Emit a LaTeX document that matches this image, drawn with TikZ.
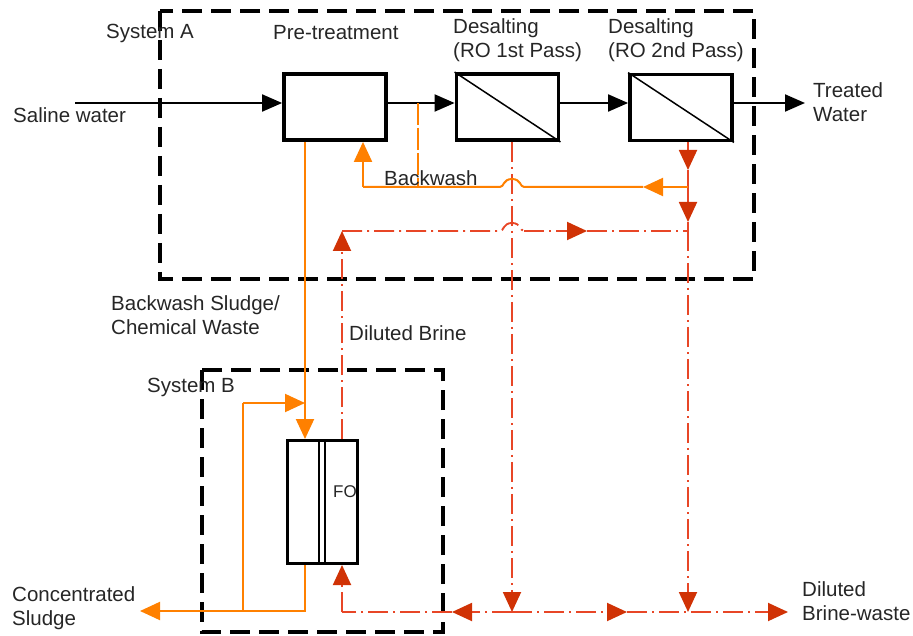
\documentclass[tikz,border=0pt]{standalone}
\usepackage{fontspec}
\setmainfont{Liberation Sans}
\usetikzlibrary{arrows.meta,calc}
\definecolor{orng}{RGB}{255,128,0}
\definecolor{rline}{RGB}{232,70,38}
\definecolor{rtipc}{RGB}{208,50,5}
\begin{document}
\begin{tikzpicture}[x=1pt,y=-1pt,
  lbl/.style={inner sep=0pt, font=\fontsize{20.5}{24}\selectfont, align=left, anchor=west, text=black!85},
  box/.style={draw, line width=3.8pt, minimum width=102pt, minimum height=66pt, inner sep=0pt},
  fobox/.style={draw, line width=3pt, minimum width=70pt, minimum height=123pt, inner sep=0pt},
  sysbox/.style={draw, line width=3.5pt, dash pattern=on 20pt off 9pt},
  flow/.style={line width=2pt},
  btip/.style={-{Triangle[length=20pt,width=17pt]}},
  otip/.style={-{Triangle[length=20pt,width=18pt]}},
  rtip/.style={-{Triangle[length=20pt,width=18pt,color=rtipc]}},
  oflow/.style={draw=orng, line width=2pt},
  rflow/.style={draw=rline, line width=1.9pt, dash pattern=on 20pt off 5pt on 2pt off 5pt},
]
\useasboundingbox (0,0) rectangle (913,636);

% system boundaries
\draw[sysbox] (160,11) rectangle (754,279);
\draw[sysbox] (202,370) rectangle (443,632);

% boxes
\node[box] (pre) at (335,107) {};
\node[box] (ro1) at (507.5,107) {};
\node[box] (ro2) at (681,107.5) {};
\node[fobox] (fo) at (322.5,502) {};
\draw[line width=1.5pt] (ro1.north west) -- (ro1.south east);
\draw[line width=1.5pt] (ro2.north west) -- (ro2.south east);
\draw[line width=1.8pt] ($(fo.north)+(-3.5,0)$) -- ($(fo.south)+(-3.5,0)$);
\draw[line width=1.8pt] ($(fo.north)+(2.5,0)$) -- ($(fo.south)+(2.5,0)$);

% coordinates
\coordinate (sw) at (75,103);
\coordinate (tw) at (805,103);
\coordinate (bwtop) at (418,103);
\coordinate (bwj) at (418,187);
\coordinate (r2a) at (688,170);
\coordinate (r2bw) at (688,187);
\coordinate (r2b) at (688,222);
\coordinate (r2db) at (688,231);
\coordinate (r2end) at (688,612);
\coordinate (bwarrow) at (643,187);
\coordinate (bwcorner) at (363,187);
\coordinate (hop1) at (512,187);
\coordinate (dbcorner) at (342,231);
\coordinate (hop2) at (512,231);
\coordinate (dbarrow) at (587,231);
\coordinate (r1end) at (512,612);
\coordinate (botL) at (452,612);
\coordinate (botcorner) at (342,612);
\coordinate (botR1) at (627,612);
\coordinate (botend) at (788,612);
\coordinate (ob) at (305,611);
\coordinate (obr) at (243,611);
\coordinate (obt) at (243,403);
\coordinate (oin) at (305,403);
\coordinate (oend) at (140,611);

% main black flow
\draw[flow,btip] (sw) -- (pre.west |- sw);
\draw[flow,btip] (pre.east |- sw) -- (ro1.west |- sw);
\draw[flow,btip] (ro1.east |- sw) -- (ro2.west |- sw);
\draw[flow,btip] (ro2.east |- sw) -- (tw);

% red brine lines
\draw[rflow,rtip] (ro1.south -| hop1) -- (r1end);
\draw[rflow,rtip] (ro2.south -| r2a) -- (r2a);
\draw[rflow] (r2a) -- (r2bw);
\draw[rflow,rtip] (r2bw) -- (r2b);
\draw[rflow] (r2b) -- (r2db);
\draw[rflow,rtip] (r2db) -- (r2end);
\draw[rflow,rtip] (fo.north -| dbcorner) -- (dbcorner);
\draw[rflow] (dbcorner) -- ($(hop2)+(-12,0)$)
   .. controls ($(hop2)+(-8,0)$) and ($(hop2)+(-9,-8)$) .. ($(hop2)+(0,-8)$)
   .. controls ($(hop2)+(9,-8)$) and ($(hop2)+(8,0)$) .. ($(hop2)+(12,0)$);
\draw[rflow,rtip] ($(hop2)+(12,0)$) -- (dbarrow);
\draw[rflow] (dbarrow) -- (r2db);
\draw[rflow,rtip] (r1end) -- (botL);
\draw[rflow] (botL) -- (botcorner);
\draw[rflow,rtip] (botcorner) -- (fo.south -| botcorner);
\draw[rflow,rtip] (r1end) -- (botR1);
\draw[rflow,rtip] (botR1) -- (botend);

% orange backwash
\draw[draw=orng, line width=1.2pt, dash pattern=on 22pt off 3pt] (bwtop) -- (bwj);
\draw[oflow,otip] (r2bw) -- (bwarrow);
\draw[oflow] (bwarrow) -- ($(hop1)+(12,0)$)
   .. controls ($(hop1)+(8,0)$) and ($(hop1)+(9,-8)$) .. ($(hop1)+(0,-8)$)
   .. controls ($(hop1)+(-9,-8)$) and ($(hop1)+(-8,0)$) .. ($(hop1)+(-12,0)$)
   -- (bwcorner);
\draw[oflow,otip] (bwcorner) -- (pre.south -| bwcorner);

% orange sludge
\draw[oflow,otip] (pre.south -| oin) -- (fo.north -| oin);
\draw[oflow] (fo.south -| ob) -- (ob) -- (obr);
\draw[oflow,otip] (obr) -- (oend);
\draw[oflow] (obr) -- (obt);
\draw[oflow,otip] (obt) -- (oin);

% labels
\node[lbl] (lsa) at (106,33) {System A};
\node[lbl] (lpre) at (273,33) {Pre-treatment};
\node[lbl] (lro1) at (453,40) {Desalting\\(RO 1st Pass)};
\node[lbl] (lro2) at (608,40) {Desalting\\(RO 2nd Pass)};
\node[lbl] (ltw) at (813,102) {Treated\\Water};
\node[lbl] (lsw) at (13,115) {Saline water};
\node[lbl] (lbw) at (384,178) {Backwash};
\node[lbl] (lbs) at (111,315) {Backwash Sludge/\\Chemical Waste};
\node[lbl] (ldb) at (349,333) {Diluted Brine};
\node[lbl] (lsb) at (147,387) {System B};
\node[lbl, font=\fontsize{17}{20}\selectfont] (lfo) at (333,492) {FO};
\node[lbl] (lcs) at (12,608) {Concentrated\\Sludge};
\node[lbl] (ldbw) at (802,601) {Diluted\\Brine-waste};
\end{tikzpicture}
\end{document}
